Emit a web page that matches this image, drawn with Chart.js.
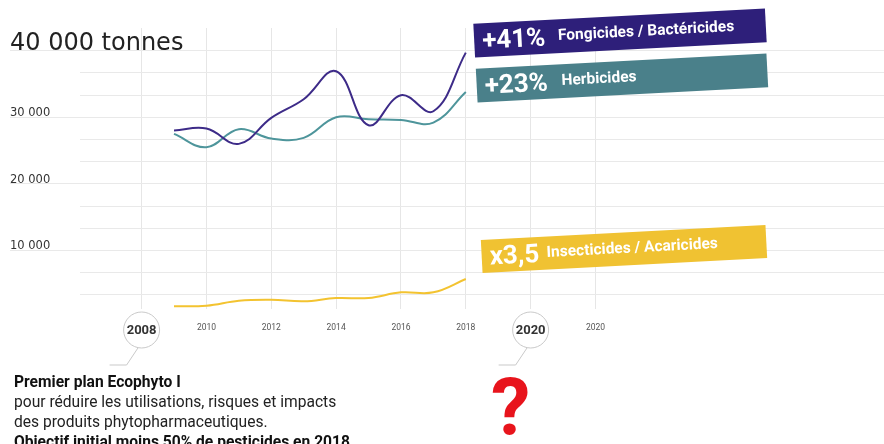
<!DOCTYPE html>
<html>
<head>
<meta charset="utf-8">
<script src="https://cdn.jsdelivr.net/npm/chart.js@4.4.0/dist/chart.umd.min.js"></script>
<style>
  body { margin: 0; background: #fff; }
  #wrap { position: relative; width: 884px; height: 444px; overflow: hidden; }
  #note { position: absolute; left: 14px; top: 372px; font-family: Roboto, sans-serif; font-size: 15.6px; line-height: 20px; color: #222; }
  #note b { color: #111; }
  #qm { position: absolute; left: 491px; top: 369px; font-family: Roboto, sans-serif; font-weight: bold; font-size: 79px; color: #e8141c; line-height: 1; }
</style>
</head>
<body>
<div id="wrap">
  <canvas id="linechart" width="884" height="444"></canvas>
  <div id="note">
    <b>Premier plan Ecophyto I</b><br>
    pour réduire les utilisations, risques et impacts<br>
    des produits phytopharmaceutiques.<br>
    <b>Objectif initial moins 50% de pesticides en 2018</b>
  </div>
  <div id="qm">?</div>
</div>
<script>
// data block
const years = [2009, 2010, 2011, 2012, 2013, 2014, 2015, 2016, 2017, 2018];
const fongicides = [28000, 28300, 26000, 29900, 32700, 36900, 28800, 33300, 30900, 39700];
const herbicides = [27500, 25500, 28200, 26800, 26900, 30000, 29700, 29600, 29200, 33800];
const insecticides = [1600, 1700, 2450, 2600, 2350, 2850, 2850, 3700, 3700, 5700];

const xTicks = [2008, 2010, 2012, 2014, 2016, 2018, 2020, 2022];
const xTickLabels = ['', '2010', '2012', '2014', '2016', '2018', '', '2020'];
const circleYears = [2008, 2020];

const yTickLabels = { 10000: '10 000', 20000: '20 000', 30000: '30 000' };
const unitLabel = '40 000 tonnes';
const unitValue = 40000;

const bannerBig = ['+41%', '+23%', 'x3,5'];
const bannerText = ['Fongicides / Bactéricides', 'Herbicides', 'Insecticides / Acaricides'];
const bannerColors = ['#2e1f7a', '#4a808a', '#f0c232'];

const purple = '#3d2b88';
const teal = '#4e959b';
const yellow = '#f3c330';

function pts(vals) {
  return years.map((y, i) => ({ x: y, y: vals[i] }));
}

// banners + year circles + big unit label
const extras = {
  id: 'extras',
  afterDraw(chart) {
    const ctx = chart.ctx;
    const xs = chart.scales.x;
    const ys = chart.scales.y;
    const area = chart.chartArea;

    // "40 000 tonnes" sits above its grid line
    ctx.save();
    ctx.fillStyle = '#222';
    ctx.font = '24px "DejaVu Sans"';
    ctx.textAlign = 'left';
    ctx.textBaseline = 'alphabetic';
    ctx.fillText(unitLabel, 10, ys.getPixelForValue(unitValue) - 1);
    ctx.restore();

    // circles for 2008 / 2020
    circleYears.forEach((yr) => {
      const cx = xs.getPixelForValue(yr);
      const cy = area.bottom + 21;
      ctx.save();
      ctx.strokeStyle = '#c9c9c9';
      ctx.lineWidth = 1;
      ctx.beginPath();
      ctx.moveTo(cx - 3, cy + 17);
      ctx.lineTo(cx - 15, cy + 35);
      ctx.lineTo(cx - 32, cy + 35);
      ctx.stroke();
      ctx.beginPath();
      ctx.arc(cx, cy, 18, 0, Math.PI * 2);
      ctx.fillStyle = '#fff';
      ctx.fill();
      ctx.stroke();
      ctx.fillStyle = '#333';
      ctx.font = 'bold 13px Roboto';
      ctx.textAlign = 'center';
      ctx.textBaseline = 'middle';
      ctx.fillText(String(yr), cx, cy + 1);
      ctx.restore();
    });

    // tilted banners
    const boxes = [
      { cx: 620, cy: 33, w: 292, h: 34, off: 84 },
      { cx: 622, cy: 78, w: 291, h: 34, off: 85 },
      { cx: 624, cy: 249, w: 285, h: 33, off: 65 }
    ];
    boxes.forEach((b, i) => {
      ctx.save();
      ctx.translate(b.cx, b.cy);
      ctx.rotate(-3 * Math.PI / 180);
      ctx.fillStyle = bannerColors[i];
      ctx.fillRect(-b.w / 2, -b.h / 2, b.w, b.h);
      ctx.fillStyle = '#fff';
      ctx.textBaseline = 'middle';
      ctx.textAlign = 'left';
      ctx.font = 'bold 26px Roboto';
      ctx.fillText(bannerBig[i], -b.w / 2 + 8, 2);
      ctx.font = 'bold 15.5px Roboto';
      ctx.fillText(bannerText[i], -b.w / 2 + b.off, 0);
      ctx.restore();
    });
  }
};

const data = {
  datasets: [
    { label: 'Fongicides / Bactéricides', data: pts(fongicides), borderColor: purple },
    { label: 'Herbicides', data: pts(herbicides), borderColor: teal },
    { label: 'Insecticides / Acaricides', data: pts(insecticides), borderColor: yellow }
  ]
};

const config = {
  type: 'line',
  data,
  options: {
    responsive: false,
    animation: false,
    layout: { padding: { left: 10, top: 28, right: 0, bottom: 0 } },
    elements: {
      line: { borderWidth: 2, tension: 0.4, fill: false },
      point: { radius: 0 }
    },
    plugins: { legend: { display: false }, tooltip: { enabled: false } },
    scales: {
      x: {
        type: 'linear',
        min: 2006.1,
        max: 2030.9,
        afterBuildTicks: (s) => { s.ticks = xTicks.map(v => ({ value: v })); },
        afterFit: (s) => { s.height = 135; },
        border: { display: false },
        grid: { color: '#e6e6e6', drawTicks: false },
        ticks: {
          padding: 14,
          maxRotation: 0,
          autoSkip: false,
          color: '#555',
          font: { family: 'Roboto', size: 8.5 },
          callback: (v) => xTickLabels[xTicks.indexOf(v)] || ''
        }
      },
      y: {
        min: 1200,
        max: 43400,
        afterBuildTicks: (s) => {
          const t = [];
          for (let k = 1; k <= 12; k++) t.push({ value: Math.round(k * 10000 / 3) });
          s.ticks = t;
        },
        afterFit: (s) => { s.width = 70; },
        border: { display: false },
        grid: {
          color: '#e9e9e9',
          tickLength: 70,
          tickColor: (c) => (c.tick && (yTickLabels[c.tick.value] || c.tick.value === unitValue) ? '#e9e9e9' : 'rgba(0,0,0,0)')
        },
        ticks: {
          autoSkip: false,
          crossAlign: 'far',
          labelOffset: -4,
          padding: 0,
          color: '#333',
          font: { family: 'DejaVu Sans', size: 11.5 },
          callback: (v) => yTickLabels[v] || ''
        }
      }
    }
  },
  plugins: [extras]
};

const linechart = new Chart(document.getElementById('linechart'), config);
</script>
</body>
</html>
